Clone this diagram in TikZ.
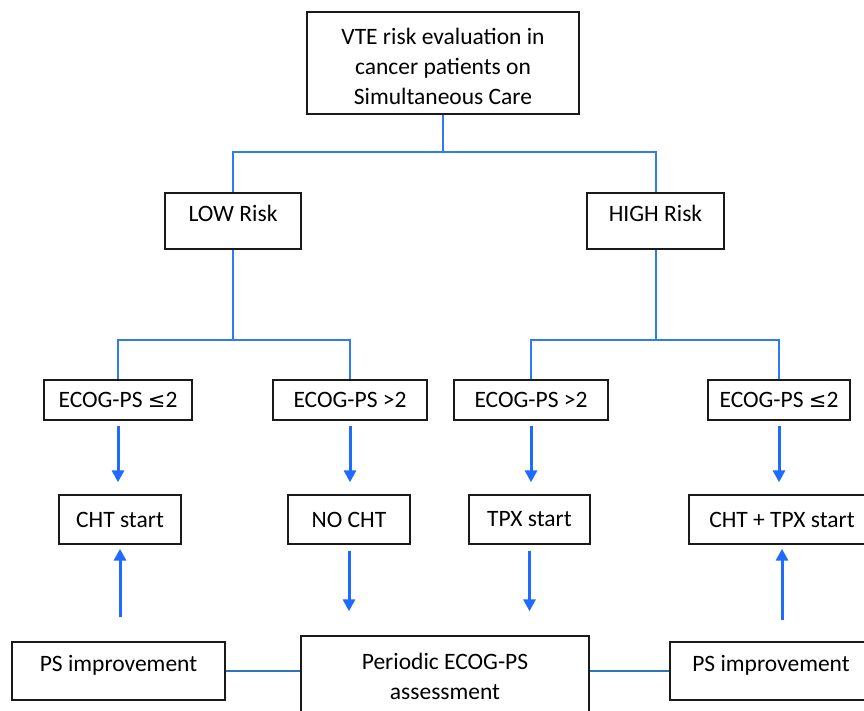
\documentclass[tikz,border=0pt]{standalone}
\usepackage{fontspec}
\setmainfont{Carlito}
\newfontfamily\symfont{DejaVu Sans}
\usepackage{xcolor}
\usetikzlibrary{arrows.meta}
\definecolor{treeblue}{HTML}{2F7BF5}
\definecolor{arrowblue}{HTML}{1F6BFF}
\definecolor{linkblue}{HTML}{2E75B6}
\definecolor{boxline}{HTML}{1A1A1A}
\newcommand{\lesseq}{{\symfont\fontsize{21}{30}\selectfont ≤}}

\begin{document}
\begin{tikzpicture}[
  x=1pt, y=-1pt,
  every node/.style={font=\fontsize{23.5}{30}\selectfont, text=black},
  box/.style={draw=boxline, line width=1.4pt, inner sep=0pt, align=center},
  raised/.style={box, text height=17pt, text depth=16pt},
  tree/.style={draw=treeblue, line width=2pt},
  flow/.style={draw=arrowblue, line width=3pt, -{Triangle[width=12pt,length=12pt]}},
  link/.style={draw=linkblue, line width=1.5pt}
]
  \clip (0,0) rectangle (864,711);
  \fill[white] (0,0) rectangle (864,711);

  % top and risk level
  \node[box, minimum width=272pt, minimum height=102pt] (vte) at (443,63)
    {\rule{0pt}{23pt}VTE risk evaluation in\\cancer patients on\\Simultaneous Care};
  \node[raised, minimum width=136pt, minimum height=56pt] (low) at (233,221) {LOW Risk};
  \node[raised, minimum width=137pt, minimum height=56pt] (high) at (655.5,221) {HIGH Risk};

  % performance status
  \node[box, minimum width=148pt, minimum height=40pt] (lowgood) at (118,400) {ECOG-PS \lesseq2};
  \node[box, minimum width=154pt, minimum height=40pt] (lowpoor) at (350,400) {ECOG-PS >2};
  \node[box, minimum width=154pt, minimum height=40pt] (highpoor) at (531,400) {ECOG-PS >2};
  \node[box, minimum width=142pt, minimum height=40pt] (highgood) at (779,400) {ECOG-PS \lesseq2};

  % treatment
  \node[box, minimum width=122pt, minimum height=49pt] (cht) at (120,519.5) {CHT start};
  \node[box, minimum width=122pt, minimum height=49pt] (nocht) at (349,519.5) {NO CHT};
  \node[box, minimum width=121pt, minimum height=49pt] (tpx) at (529.5,519.5) {TPX start};
  \node[box, minimum width=186pt, minimum height=49pt] (chttpx) at (782,519.5) {CHT + TPX start};

  % follow-up
  \node[raised, minimum width=213pt, minimum height=58pt] (psleft) at (118.5,671) {PS improvement};
  \node[box, minimum width=288pt, minimum height=80pt] (periodic) at (445,676)
    {Periodic ECOG-PS\\assessment};
  \node[raised, minimum width=202pt, minimum height=58pt] (psright) at (771,671) {PS improvement};

  % tree
  \coordinate (topfork) at (443,152);
  \coordinate (lowfork) at (233,340);
  \coordinate (highfork) at (655.5,340);
  \draw[tree] (vte.south) -- (topfork);
  \draw[tree] (low.north) |- (topfork) -| (high.north);
  \draw[tree] (low.south) -- (lowfork);
  \draw[tree] (lowgood.north) |- (lowfork) -| (lowpoor.north);
  \draw[tree] (high.south) -- (highfork);
  \draw[tree] (highpoor.north) |- (highfork) -| (highgood.north);

  % arrows
  \draw[flow, shorten <=5pt, shorten >=12pt] (lowgood.south) -- (lowgood.south |- cht.north);
  \draw[flow, shorten <=5pt, shorten >=12pt] (lowpoor.south) -- (lowpoor.south |- nocht.north);
  \draw[flow, shorten <=5pt, shorten >=12pt] (highpoor.south) -- (highpoor.south |- tpx.north);
  \draw[flow, shorten <=5pt, shorten >=12pt] (highgood.south) -- (highgood.south |- chttpx.north);
  \draw[flow, shorten <=6pt, shorten >=24pt] (nocht.south) -- (nocht.south |- periodic.north);
  \draw[flow, shorten <=6pt, shorten >=24pt] (tpx.south) -- (tpx.south |- periodic.north);
  \draw[flow, shorten <=24pt, shorten >=4pt] (psleft.north -| cht.south) -- (cht.south);
  \draw[flow, shorten <=21pt, shorten >=4pt] (psright.north -| chttpx.south) -- (chttpx.south);

  % links
  \draw[link] (psleft.east) -- (psleft.east -| periodic.west);
  \draw[link] (psright.west) -- (psright.west -| periodic.east);
\end{tikzpicture}
\end{document}
